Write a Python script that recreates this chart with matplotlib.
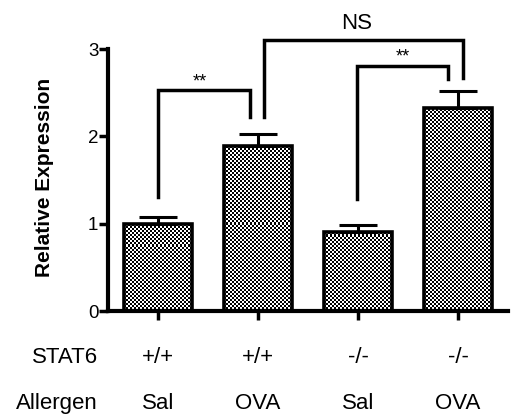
import numpy as np
import matplotlib
matplotlib.use("Agg")
import matplotlib.pyplot as plt

plt.rcParams['font.family'] = ['Liberation Sans', 'DejaVu Sans']

stat6 = ["+/+", "+/+", "-/-", "-/-"]
allergen = ["Sal", "OVA", "Sal", "OVA"]
values = [1.00, 1.89, 0.91, 2.32]
errors = [0.08, 0.14, 0.07, 0.20]
yticks = [0, 1, 2, 3]

fig = plt.figure(figsize=(5.12, 4.15), dpi=100)
ax = fig.add_axes([108/512, 1-311/415, 400/512, 262/415])

x = np.arange(len(values))
bars = ax.bar(x, values, width=0.68, color='none', edgecolor='black', linewidth=2.6, zorder=3)
ax.errorbar(x, values, yerr=[np.zeros(len(errors)), errors], fmt='none', ecolor='black',
            elinewidth=2.2, capsize=14, capthick=2.2, zorder=2)

# checkerboard texture inside bars
H, W = 262, 400
yy, xx = np.mgrid[0:H, 0:W]
checker = (((yy // 2) + (xx // 2)) % 2).astype(float)
for b in bars:
    im = ax.imshow(checker, cmap='gray', vmin=0, vmax=1, extent=(-0.5, 3.5, 0, 3),
                   aspect='auto', interpolation='nearest', zorder=1)
    im.set_clip_path(b)

ax.set_xlim(-0.5, 3.5)
ax.set_ylim(0, 3)
ax.set_yticks(yticks)
ax.set_yticklabels([str(t) for t in yticks], fontsize=13.5)
ax.set_xticks(x)
ax.set_xticklabels([])
ax.tick_params(axis='both', width=2.5, length=6.5, direction='out')
ax.tick_params(axis='y', pad=0.5)
for s in ['top', 'right']:
    ax.spines[s].set_visible(False)
for s in ['left', 'bottom']:
    ax.spines[s].set_linewidth(3)

ax.set_ylabel("Relative Expression", fontsize=15, fontweight='bold')
ax.yaxis.set_label_coords(-0.135, 0.51)

lw = 2.5
def bracket(x1, x2, ytop, yl, yr):
    ax.plot([x1, x1, x2, x2], [yl, ytop, ytop, yr], color='black', lw=lw,
            clip_on=False, solid_joinstyle='miter', zorder=4)

bracket(0.0, 0.92, 2.53, 1.30, 2.22)
bracket(1.06, 3.05, 3.10, 2.22, 2.67)
bracket(1.99, 2.90, 2.81, 1.28, 2.66)
ax.text(0.42, 2.52, "**", ha='center', va='bottom', fontsize=13)
ax.text(2.45, 2.81, "**", ha='center', va='bottom', fontsize=13)
ax.text(1.99, 3.29, "NS", ha='center', va='center', fontsize=16)

# row labels below
trans = ax.get_xaxis_transform()
def yfrac(px):
    return (311 - px) / 262
for i in range(len(values)):
    ax.text(x[i], yfrac(357), stat6[i], transform=trans, ha='center', va='center', fontsize=16, clip_on=False)
    ax.text(x[i], yfrac(403), allergen[i], transform=trans, ha='center', va='center', fontsize=16, clip_on=False)
fig.text(98/512, 1-357/415, "STAT6", ha='right', va='center', fontsize=16)
fig.text(98/512, 1-403/415, "Allergen", ha='right', va='center', fontsize=16)

fig.savefig("out.png", dpi=100)
